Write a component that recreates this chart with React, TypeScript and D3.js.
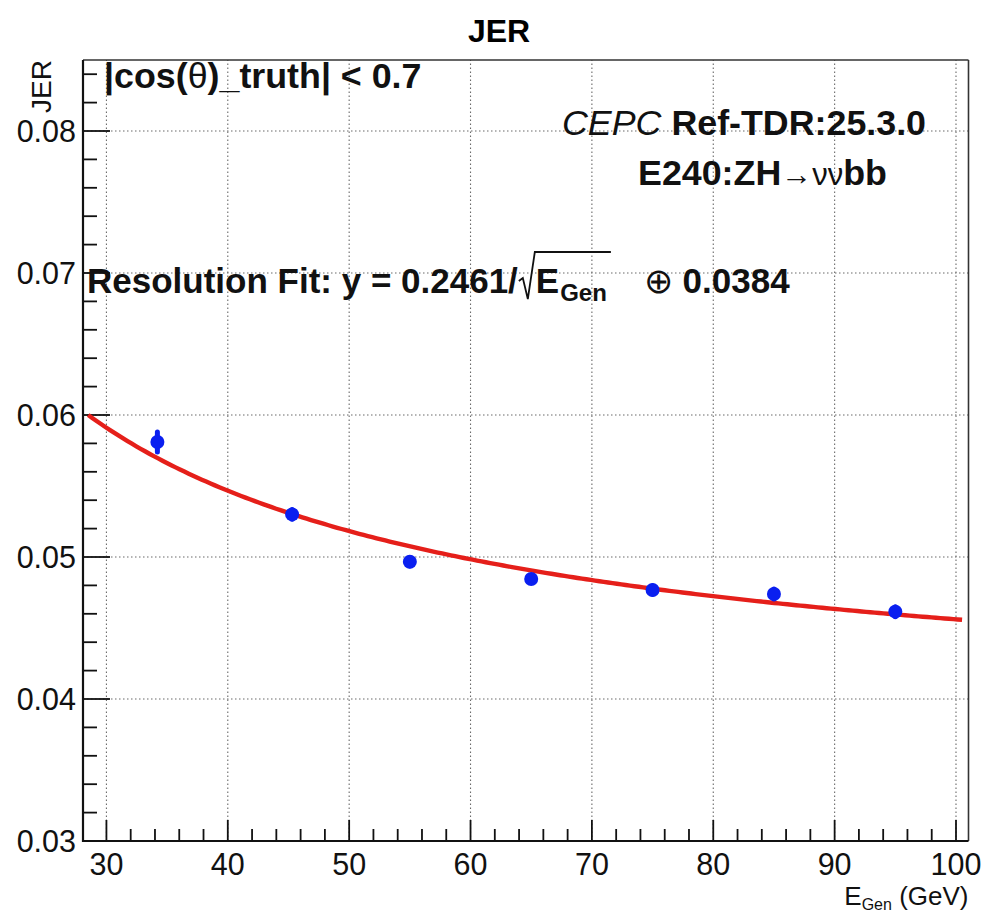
import React, { useEffect, useRef } from 'react';
import * as d3 from 'd3';

// ---- data ----
const energies = [34.2, 45.3, 55, 65, 75, 85, 95];
const jerValues = [0.0581, 0.0530, 0.04967, 0.04845, 0.04768, 0.04739, 0.04615];
const jerErrors = [0.0007, 0.00035, 0.0003, 0.00025, 0.0003, 0.00035, 0.00035];
const fitStochastic = 0.2461;
const fitConstant = 0.0384;
const fitRange = [28.5, 100.5];
const xTickValues = [30, 40, 50, 60, 70, 80, 90, 100];
const yTickValues = [0.03, 0.04, 0.05, 0.06, 0.07, 0.08];
const xDomain = [28.07, 101.03];
const yDomain = [0.03, 0.085];

const FONT = '"Liberation Sans", Arial, Helvetica, sans-serif';

export default function App() {
  const ref = useRef<SVGSVGElement | null>(null);

  useEffect(() => {
    const svg = d3.select(ref.current);
    svg.selectAll('*').remove();

    const L = 83, R = 968.5, T = 60, B = 841;
    const x = d3.scaleLinear().domain(xDomain).range([L, R]);
    const y = d3.scaleLinear().domain(yDomain).range([B, T]);

    svg.append('rect').attr('width', 985).attr('height', 913).attr('fill', '#fff');

    // grid
    const grid = svg.append('g').attr('stroke', '#6a6a6a').attr('stroke-width', 1.1).attr('stroke-dasharray', '1.5,2.5');
    xTickValues.forEach(v => {
      grid.append('line').attr('x1', x(v)).attr('x2', x(v)).attr('y1', B).attr('y2', T);
    });
    yTickValues.filter(v => v > yDomain[0]).forEach(v => {
      grid.append('line').attr('x1', L).attr('x2', R).attr('y1', y(v)).attr('y2', y(v));
    });

    // frame
    svg.append('line').attr('x1', L).attr('x2', R).attr('y1', T).attr('y2', T).attr('stroke', '#333').attr('stroke-width', 1.6);
    svg.append('line').attr('x1', R).attr('x2', R).attr('y1', T).attr('y2', B).attr('stroke', '#333').attr('stroke-width', 1.6);
    svg.append('line').attr('x1', L).attr('x2', L).attr('y1', T).attr('y2', B + 1).attr('stroke', '#111').attr('stroke-width', 2.2);
    svg.append('line').attr('x1', L - 1).attr('x2', R).attr('y1', B).attr('y2', B).attr('stroke', '#111').attr('stroke-width', 2.2);

    // ticks
    const ticks = svg.append('g').attr('stroke', '#111').attr('stroke-width', 1.8);
    const xMinor = d3.range(30, 101, 2);
    xMinor.forEach(v => {
      const major = v % 10 === 0;
      ticks.append('line').attr('x1', x(v)).attr('x2', x(v)).attr('y1', B).attr('y2', B - (major ? 21 : 12));
    });
    const yMinor = d3.range(0, 28).map(i => 0.03 + i * 0.002).filter(v => v < yDomain[1]);
    yMinor.forEach((v, i) => {
      const major = i % 5 === 0;
      ticks.append('line').attr('x1', L).attr('x2', L + (major ? 27 : 14)).attr('y1', y(v)).attr('y2', y(v));
    });

    // tick labels
    const tl = svg.append('g').attr('font-family', FONT).attr('font-size', 30.5).attr('fill', '#111');
    xTickValues.forEach(v => {
      tl.append('text').attr('x', x(v)).attr('y', B + 34).attr('text-anchor', 'middle').text(d3.format('d')(v));
    });
    yTickValues.forEach(v => {
      tl.append('text').attr('x', L - 7).attr('y', y(v) + 11).attr('text-anchor', 'end').text(d3.format('.2f')(v));
    });

    // axis titles
    const xt = svg.append('text').attr('font-family', FONT).attr('font-size', 26).attr('fill', '#111')
      .attr('x', R).attr('y', 905).attr('text-anchor', 'end');
    xt.append('tspan').text('E');
    xt.append('tspan').attr('font-size', 16).attr('dy', 5).text('Gen');
    xt.append('tspan').attr('dy', -5).text(' (GeV)');

    svg.append('text').attr('font-family', FONT).attr('font-size', 28).attr('fill', '#111')
      .attr('transform', `translate(51,${T}) rotate(-90)`).attr('text-anchor', 'end').text('JER');

    // title
    svg.append('text').attr('font-family', FONT).attr('font-size', 32).attr('font-weight', 'bold')
      .attr('x', 499).attr('y', 42).attr('text-anchor', 'middle').text('JER');

    // fit curve
    const xs = d3.range(0, 201).map(i => fitRange[0] + (fitRange[1] - fitRange[0]) * i / 200);
    const fit = (e: number) => Math.sqrt((fitStochastic / Math.sqrt(e)) ** 2 + fitConstant ** 2);
    const line = d3.line<number>().x(d => x(d)).y(d => y(fit(d))).curve(d3.curveLinear);
    svg.append('path').attr('d', line(xs)).attr('fill', 'none').attr('stroke', '#e51f1a').attr('stroke-width', 4.4);

    // points
    const pts = svg.append('g');
    energies.forEach((e, i) => {
      pts.append('line').attr('x1', x(e)).attr('x2', x(e))
        .attr('y1', y(jerValues[i] - jerErrors[i])).attr('y2', y(jerValues[i] + jerErrors[i]))
        .attr('stroke', '#0a1ff0').attr('stroke-width', 5).attr('stroke-linecap', 'round');
      pts.append('circle').attr('cx', x(e)).attr('cy', y(jerValues[i])).attr('r', 7).attr('fill', '#0a1ff0');
    });

    // annotations
    const AF = 35.8;
    const ann = svg.append('g').attr('font-family', FONT).attr('fill', '#111');
    const t1 = ann.append('text').attr('x', 104).attr('y', 88).attr('font-size', AF).attr('font-weight', 'bold');
    t1.append('tspan').text('|cos(');
    t1.append('tspan').attr('font-weight', 'normal').text('θ');
    t1.append('tspan').text(')_truth| < 0.7');

    const t2 = ann.append('text').attr('x', 562).attr('y', 135).attr('font-size', AF);
    t2.append('tspan').attr('font-style', 'italic').text('CEPC ');
    t2.append('tspan').attr('font-weight', 'bold').text('Ref-TDR:25.3.0');

    const t3 = ann.append('text').attr('x', 638).attr('y', 185).attr('font-size', AF);
    t3.append('tspan').attr('font-weight', 'bold').text('E240:ZH');
    t3.append('tspan').attr('font-size', 31).text('→νν');
    t3.append('tspan').attr('font-weight', 'bold').text('bb');

    // resolution fit text with radical
    const fx = 87, fy = 293;
    const r1 = ann.append('text').attr('x', fx).attr('y', fy).attr('font-size', 35).attr('font-weight', 'bold')
      .text('Resolution Fit: y = 0.2461/');
    const w1 = (r1.node() as SVGTextElement).getComputedTextLength();
    const rx = fx + w1 + 1;
    const eX = rx + 17;
    const rE = ann.append('text').attr('x', eX).attr('y', fy).attr('font-size', 35).attr('font-weight', 'bold').text('E');
    const wE = (rE.node() as SVGTextElement).getComputedTextLength();
    const rG = ann.append('text').attr('x', eX + wE + 1).attr('y', fy + 8).attr('font-size', 24).attr('font-weight', 'bold').text('Gen');
    const wG = (rG.node() as SVGTextElement).getComputedTextLength();
    const overEnd = eX + wE + 1 + wG + 4;
    ann.append('path')
      .attr('d', `M${rx},${fy - 12} L${rx + 4},${fy - 15} L${rx + 9},${fy + 6} L${rx + 16},${fy - 41} L${overEnd},${fy - 41}`)
      .attr('fill', 'none').attr('stroke', '#111').attr('stroke-width', 1.8);
    const r3 = ann.append('text').attr('x', overEnd + 33).attr('y', fy).attr('font-size', 35);
    r3.append('tspan').text('⊕');
    r3.append('tspan').attr('font-weight', 'bold').text(' 0.0384');
  }, []);

  return (
    <svg ref={ref} width={985} height={913}
      style={{ position: 'absolute', left: 0, top: 0, display: 'block' }} />
  );
}
